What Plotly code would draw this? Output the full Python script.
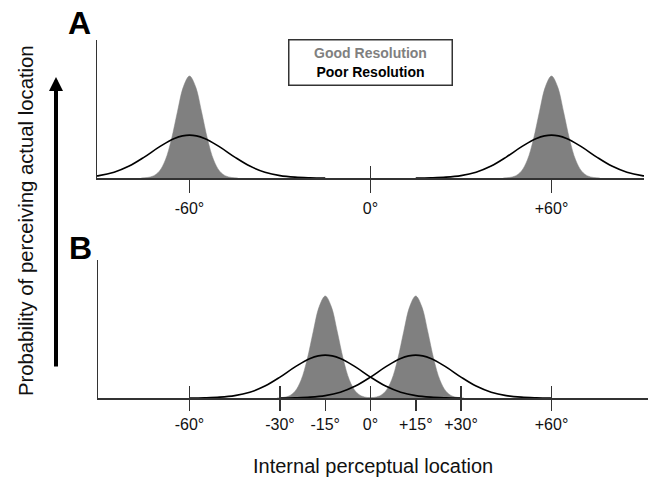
import plotly.graph_objects as go

# ---------------- data ----------------
panel_a_centers = [-60, 60]
panel_b_centers = [-15, 15]

# relative height profiles around each centre (degrees offset -> height)
good_offsets = [-16, -14, -12, -10, -8, -6, -4, -2, 0, 2, 4, 6, 8, 10, 12, 14, 16]
good_profile = [0.0, 0.005, 0.02, 0.067, 0.177, 0.378, 0.649, 0.897, 1.0,
                0.897, 0.649, 0.378, 0.177, 0.067, 0.02, 0.005, 0.0]
poor_offsets = [-45, -40, -35, -30, -25, -20, -15, -10, -5, 0, 5, 10, 15, 20, 25, 30, 35, 40, 45]
poor_profile = [0.0, 0.0025, 0.0083, 0.0235, 0.057, 0.117, 0.205, 0.305, 0.388, 0.42,
                0.388, 0.305, 0.205, 0.117, 0.057, 0.0235, 0.0083, 0.0025, 0.0]

a_tickvals = [-60, 0, 60]
a_ticktext = ["-60°", "0°", "+60°"]
a_cross_ticks = [0]
b_tickvals = [-60, -30, -15, 0, 15, 30, 60]
b_ticktext = ["-60°", "-30°", "-15°", "0°", "+15°", "+30°", "+60°"]
b_cross_ticks = [-60, -30, 0, 30, 60]

# ---------------- layout geometry ----------------
W, H = 655, 477
FONT = "Liberation Sans, Arial, sans-serif"
AX = "#333333"
GOOD = "#808080"
k = 362 / 120.0   # px per degree
x0 = 370.5        # px of 0 deg


def xr(px):
    return (px - x0) / k


def pxx(p):
    return p / W


def py(p):
    return 1 - p / H


ymax = 138 / 102.0

fig = go.Figure()

panels = [
    dict(centers=panel_a_centers, xa="x", xo="x3", ya="y"),
    dict(centers=panel_b_centers, xa="x2", xo="x4", ya="y2"),
]
for p in panels:
    for c in p["centers"]:
        fig.add_trace(go.Scatter(
            x=[c + o for o in good_offsets], y=good_profile,
            mode="lines", line=dict(color=GOOD, width=0.5, shape="spline"),
            fill="tozeroy", fillcolor=GOOD, xaxis=p["xa"], yaxis=p["ya"],
            hoverinfo="skip", showlegend=False))
    for c in p["centers"]:
        fig.add_trace(go.Scatter(
            x=[c + o for o in poor_offsets], y=poor_profile,
            mode="lines", line=dict(color="black", width=1.6, shape="spline"),
            xaxis=p["xo"], yaxis=p["ya"], hoverinfo="skip", showlegend=False))

common_x = dict(showgrid=False, zeroline=False, showline=True, linecolor=AX, linewidth=1.5,
                tickcolor=AX, tickwidth=1.5, fixedrange=True,
                tickfont=dict(family=FONT, size=16, color="#111111"))
common_y = dict(showgrid=False, zeroline=False, showline=True, linecolor=AX, linewidth=1.5,
                showticklabels=False, ticks="", range=[0, ymax], fixedrange=True)

a_range = [xr(97), xr(644)]
b_range = [xr(98), xr(648)]

fig.update_layout(
    width=W, height=H, margin=dict(l=0, r=0, t=0, b=0),
    paper_bgcolor="white", plot_bgcolor="white", showlegend=False,
    xaxis=dict(common_x, domain=[pxx(97), pxx(644)], range=a_range, anchor="y",
               tickmode="array", tickvals=a_tickvals, ticktext=a_ticktext,
               ticks="outside", ticklen=13, ticklabelstandoff=2),
    xaxis3=dict(common_x, overlaying="x", range=a_range, anchor="y", showline=False,
                tickmode="array", tickvals=a_cross_ticks, showticklabels=False,
                ticks="inside", ticklen=12),
    yaxis=dict(common_y, domain=[py(178), py(40)], anchor="x"),
    xaxis2=dict(common_x, domain=[pxx(98), pxx(648)], range=b_range, anchor="y2",
                tickmode="array", tickvals=b_tickvals, ticktext=b_ticktext,
                ticks="outside", ticklen=11, ticklabelstandoff=0),
    xaxis4=dict(common_x, overlaying="x2", range=b_range, anchor="y2", showline=False,
                tickmode="array", tickvals=b_cross_ticks, showticklabels=False,
                ticks="inside", ticklen=12),
    yaxis2=dict(common_y, domain=[py(398), py(260)], anchor="x2"),
)

ann = []
ann.append(dict(text="<b>A</b>", x=pxx(79), y=py(23), xref="paper", yref="paper",
                showarrow=False, font=dict(family=FONT, size=32, color="black"),
                xanchor="center", yanchor="middle"))
ann.append(dict(text="<b>B</b>", x=pxx(80), y=py(248), xref="paper", yref="paper",
                showarrow=False, font=dict(family=FONT, size=32, color="black"),
                xanchor="center", yanchor="middle"))
ann.append(dict(text="<b><span style='color:#808080'>Good Resolution</span><br>Poor Resolution</b>",
                x=pxx(370), y=py(62.5), xref="paper", yref="paper", showarrow=False,
                font=dict(family=FONT, size=14, color="black"),
                width=160, height=42, borderpad=1, bordercolor=AX, borderwidth=1.5,
                bgcolor="white", align="center", xanchor="center", yanchor="middle"))
ann.append(dict(text="Probability of perceiving actual location", textangle=-90,
                x=pxx(26), y=py(221), xref="paper", yref="paper", showarrow=False,
                font=dict(family=FONT, size=20.3, color="#111111"),
                xanchor="center", yanchor="middle"))
ann.append(dict(text="Internal perceptual location",
                x=pxx(372.5), y=py(466), xref="paper", yref="paper", showarrow=False,
                font=dict(family=FONT, size=20, color="#111111"),
                xanchor="center", yanchor="middle"))
ann.append(dict(text="", x=pxx(56), y=py(77), xref="paper", yref="paper",
                showarrow=True, ax=0, ay=291, axref="pixel", ayref="pixel",
                arrowhead=2, arrowsize=0.7, arrowwidth=4, arrowcolor="black", standoff=0))
fig.update_layout(annotations=ann)

fig.write_html("out.html", config={"displayModeBar": False, "staticPlot": True},
               post_script="document.body.style.margin='0';document.body.style.overflow='hidden';")
